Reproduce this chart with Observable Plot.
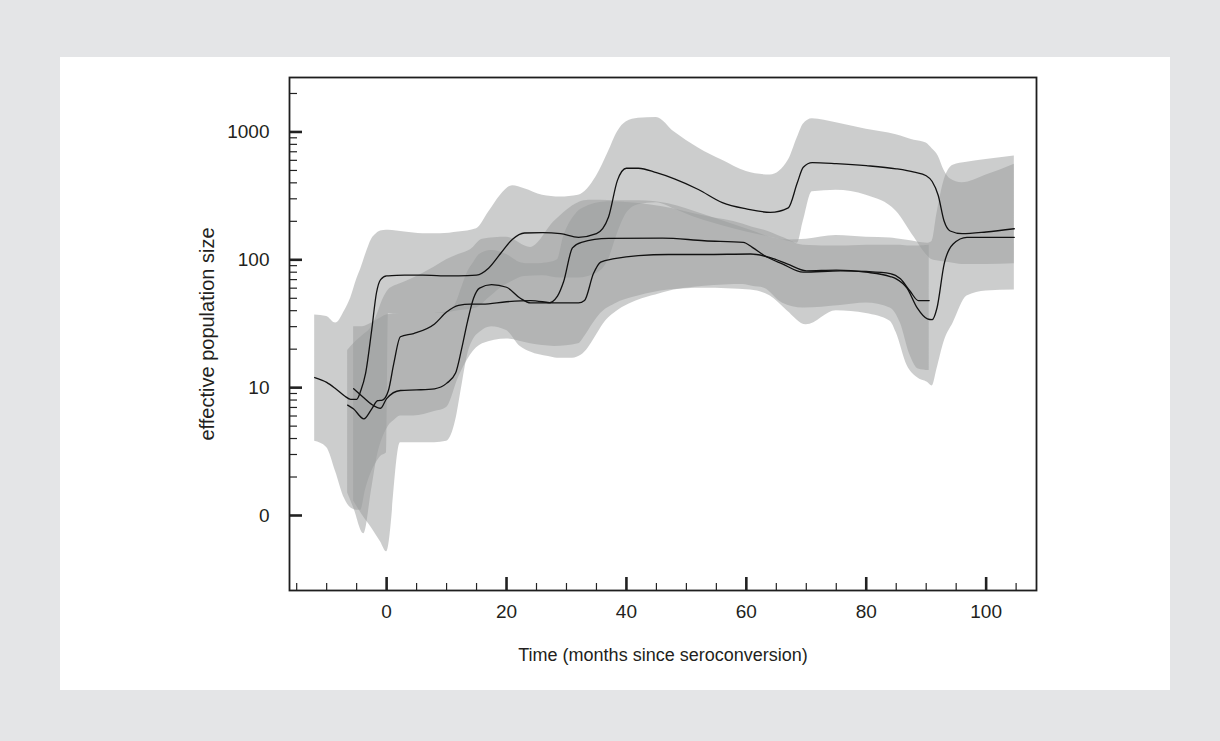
<!DOCTYPE html>
<html><head><meta charset="utf-8">
<script src="https://cdn.jsdelivr.net/npm/d3@7"></script>
<script src="https://cdn.jsdelivr.net/npm/@observablehq/plot@0.6"></script>
<style>
html,body{margin:0;padding:0;background:#e4e5e7;width:1220px;height:741px;overflow:hidden;}
#panel{position:absolute;left:60px;top:57px;width:1110px;height:633px;background:#fff;}
</style></head><body><div id="panel"></div>
<script>
// ---- data (months since seroconversion, effective population size) ----
const monthsA = [-12,-10,-8.5,-7,-6,-5,-4.3,-3.5,-2.5,-1.7,-1,0,0.3,3,6,9,12,15,17,19,21,23,26,29,32,35,37,38.5,40,42,45,48,52,56,60,64,67,68.5,69.5,71,75,80,85,88,90,91,92,93,94,96,100,104.7];
const medianA = [12,11,9.8,8.6,8.1,8.1,9.5,13,28,55,70,75,75,76,76,75,75,76,86,112,145,162,163,160,150,160,215,418,520,520,480,430,355,280,250,235,255,400,530,575,565,545,515,485,455,410,320,200,168,160,165,175];
const lowerA  = [3.8,3.4,2.2,1.35,1.15,1.1,1.1,1.6,2.2,2.6,2.9,3.1,38,38,38,38,40,42,50,60,68,74,75,72,72,78,100,160,230,270,280,250,210,185,165,150,140,135,200,340,350,320,240,150,110,100,98,96,95,92,92,93];
const upperA  = [37,36,32,40,50,70,85,110,145,160,168,170,170,165,160,160,165,175,235,320,380,360,320,310,320,450,700,1000,1200,1280,1300,1000,750,600,490,460,600,900,1150,1270,1180,1050,950,860,820,740,650,500,430,400,460,560];

const monthsB = [-6.5,-5.5,-3.8,-2.5,-1.5,-0.7,0.3,1.2,2.3,4.5,8,10,12,14,16,20,24,28,32,33,34.5,35.7,38,42,47,53,60.7,64,66.8,70,75,80,84,85,86.8,88.5,90.2,91,91.8,93,94.5,96.8,100,104.7];
const medianB = [7.3,6.8,5.7,6.8,7.9,8,9.5,15.5,25,26.5,31.5,39,44,45,45,47,48,46,46,48,78,96,102,108,110,110,111,104,93,82,83,80,74,71,60,42,34.5,34,42,93,133,150,150,150];
const lowerB  = [1.5,1.15,0.72,1.6,3,4,5,5.5,6,6,6.5,7,12,18,22,24,22,21,22,25,32,38,45,52,58,60,58,52,40,31,40,38,33,27,15,12,11,10.3,14,23,32,52,57,58];
const upperB  = [19.5,22,26,30,38,48,58,62,65,72,88,100,110,120,145,150,125,200,280,290,292,292,290,290,275,225,170,150,143,145,155,150,148,146,142,138,135,140,230,420,550,580,610,650];

const monthsC = [-5.5,-4,-2.5,-1,0,2.3,5,8,10,11.5,12.5,13.5,14.5,15.5,17.5,20,22.3,24,27,28.5,29.5,31,32.5,37,46,53,59.5,61,63,66,69.5,75.7,80,84,85.7,87.3,88.7,90.5];
const medianC = [9.8,8.5,7.4,6.9,8.2,9.5,9.6,9.8,10.8,13,20,33,50,60,64,61,50,46,46,52,67,124,137,147,148,141,137,125,108,93,80,82,81,78,71,57,48,48];
const lowerC  = [1.3,1,0.8,0.62,0.52,3.7,3.7,3.7,3.8,5.5,10,18,24,27,30,28,21,19,17.5,17,17,17,18,35,55,62,64,62,60,46,42,44,46,42,32,18,14,13.6];
const upperC  = [30,30,32,35,37,38,38,38,39,45,60,80,95,110,118,110,95,93,95,100,150,210,250,285,260,220,190,180,170,150,130,128,130,130,130,128,128,130];

const yMajorTicks = [1, 10, 100, 1000];
const yTickLabels = ["0", "10", "100", "1000"];
const yMinorTicks = [2,3,4,5,6,7,8,9,20,30,40,50,60,70,80,90,200,300,400,500,600,700,800,900,2000];
const xMajorTicks = [0, 20, 40, 60, 80, 100];
const xMinorTicks = [-15,-10,-5,5,10,15,25,30,35,45,50,55,65,70,75,85,90,95,105];
const xTitle = "Time (months since seroconversion)";
const yTitle = "effective population size";

// ---- chart ----
const W = 1110, H = 633, mL = 229, mR = 134, mT = 20, mB = 100;
const fw = W - mL - mR, fh = H - mT - mB;
const series = [
  {m: monthsA, med: medianA, lo: lowerA, hi: upperA},
  {m: monthsB, med: medianB, lo: lowerB, hi: upperB},
  {m: monthsC, med: medianC, lo: lowerC, hi: upperC}
];
const bands = series.map(s => Plot.areaY(d3.range(s.m.length), {
  x: i => s.m[i], y1: i => s.lo[i], y2: i => s.hi[i],
  fill: "#9a9b9c", fillOpacity: 0.5, curve: "monotone-x"
}));
const lines = series.map(s => Plot.lineY(d3.range(s.m.length), {
  x: i => s.m[i], y: i => s.med[i],
  stroke: "#111", strokeWidth: 1.3, curve: "monotone-x"
}));

const chart = Plot.plot({
  width: W, height: H,
  marginLeft: mL, marginRight: mR, marginTop: mT, marginBottom: mB,
  style: {fontFamily: "'Liberation Sans', Arial, Helvetica, sans-serif", fontSize: "19px", color: "#231f20", background: "transparent"},
  x: {domain: [-16.2, 108.4]},
  y: {type: "log", domain: [0.259, 2667]},
  marks: [
    ...bands,
    ...lines,
    Plot.ruleY(yMajorTicks, {y: d => d, insetRight: fw - 13, stroke: "#222", strokeWidth: 2.6}),
    Plot.ruleY(yMinorTicks, {y: d => d, insetRight: fw - 8, stroke: "#222", strokeWidth: 1.2}),
    Plot.ruleX(xMajorTicks, {x: d => d, insetTop: fh - 13, stroke: "#222", strokeWidth: 2.6}),
    Plot.ruleX(xMinorTicks, {x: d => d, insetTop: fh - 7, stroke: "#222", strokeWidth: 1.2}),
    Plot.axisY({ticks: yMajorTicks, tickFormat: d => yTickLabels[yMajorTicks.indexOf(d)], tickSize: 0, tickPadding: 20, label: null, fontSize: 19}),
    Plot.axisX({ticks: xMajorTicks, tickFormat: d => String(d), tickSize: 0, tickPadding: 14, label: null, fontSize: 19}),
    Plot.frame({stroke: "#1e1e1e", strokeWidth: 1.8}),
    Plot.text([yTitle], {text: d => d, frameAnchor: "left", textAnchor: "middle", dx: -82, rotate: -90, fontSize: 20, fill: "#231f20"}),
    Plot.text([xTitle], {text: d => d, frameAnchor: "bottom", textAnchor: "middle", dy: 70, fontSize: 18, fill: "#231f20"})
  ]
});
document.getElementById("panel").appendChild(chart);
</script></body></html>
